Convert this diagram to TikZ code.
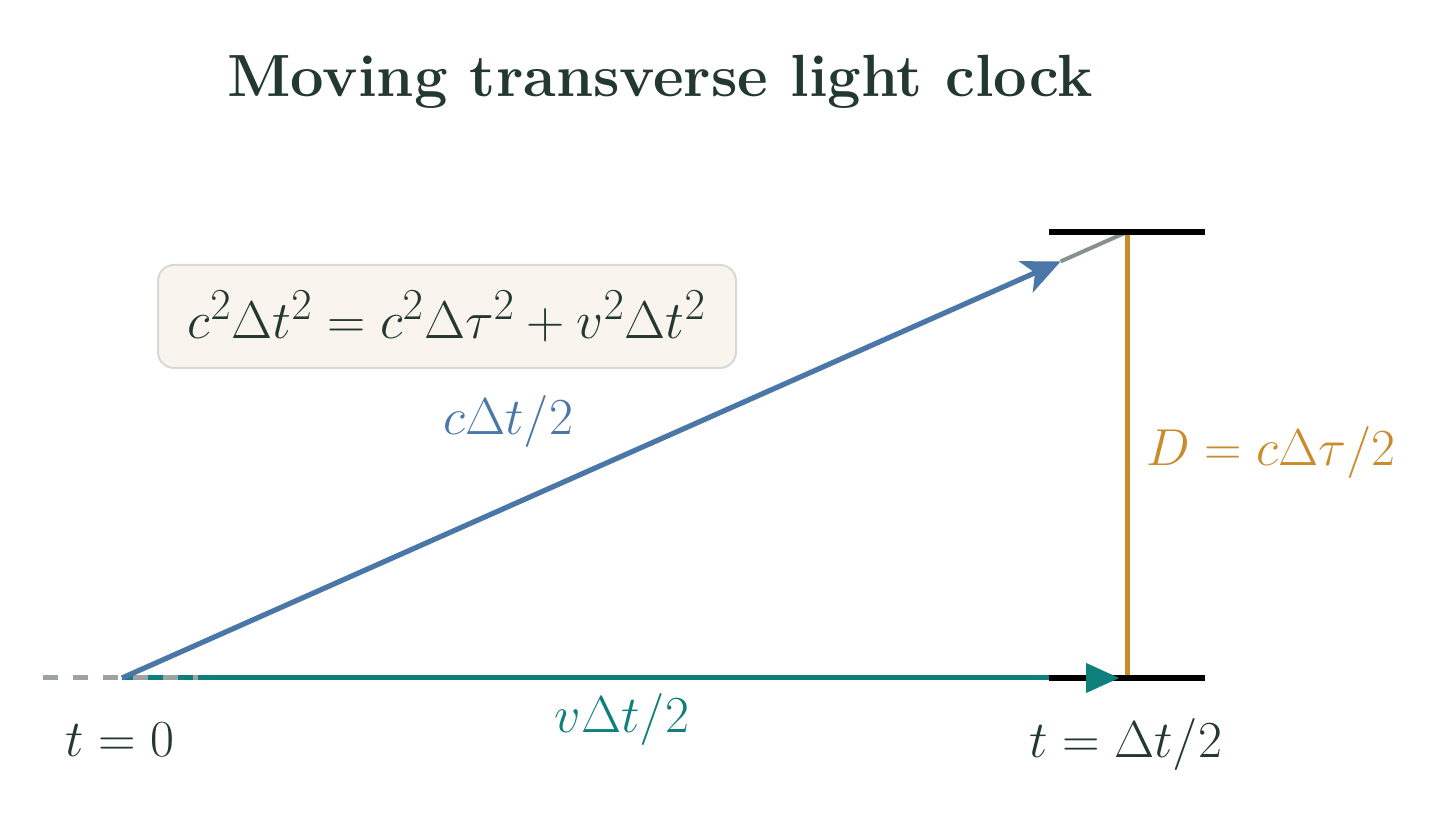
\documentclass[tikz,border=0pt]{standalone}
\usetikzlibrary{arrows.meta,calc}
\definecolor{txt}{HTML}{233830}
\definecolor{cblue}{HTML}{4A77A8}
\definecolor{cteal}{HTML}{0E7F7A}
\definecolor{corange}{HTML}{C88C2C}
\definecolor{cgray}{HTML}{9DA3A0}
\definecolor{cgrayline}{HTML}{86918C}
\definecolor{boxfill}{HTML}{F9F5EE}
\definecolor{boxdraw}{HTML}{D8D8D4}
\newcommand{\lblscale}[1]{\scalebox{1.045}{#1}}
\tikzset{
  mirror/.style={line width=2.8pt, black},
  lbl/.style={inner sep=0pt, font=\fontsize{24.88}{30}\selectfont},
}
\begin{document}
\begin{tikzpicture}[x=0.5pt,y=-0.5pt]
\useasboundingbox (0,0) rectangle (1453,828);
\coordinate (O) at (122,678);
\coordinate (B) at (1127,678);
\coordinate (T) at (1127,232);
\coordinate (TL) at (1049,232);
\coordinate (TR) at (1205,232);
\coordinate (BL) at (1049,678);
\coordinate (BR) at (1205,678);
\coordinate (Dl) at (43,678);
\coordinate (Dr) at (198,678);
\coordinate (tip) at ($(O)!0.934!(T)$);
\coordinate (vt) at (1119,678);
% title
\node[inner sep=0pt, text=txt, font=\fontsize{29.8}{34}\selectfont\bfseries] (title) at (660,82) {Moving transverse light clock};
% teal line
\draw[cteal, line width=2.5pt] (O) -- (vt);
% dashes
\draw[cgray, line width=2.5pt, dash pattern=on 7.5pt off 7.5pt] (Dl) -- (Dr);
% gray segment top
\draw[cgrayline, line width=2pt] (tip) -- (T);
% blue
\draw[cblue, line width=2.6pt, -{Stealth[length=19pt,width=17pt,inset=5pt]}] (O) -- (tip);
% orange
\draw[corange, line width=2.5pt] (T) -- (B);
% mirrors
\draw[mirror] (TL) -- (TR);
\draw[mirror] (BL) -- (BR);
% teal arrowhead
\draw[cteal, line width=0.1pt, -{Triangle[length=16.5pt,width=15pt]}] (1090,678) -- (vt);
% box
\node[draw=boxdraw, fill=boxfill, line width=1pt, rounded corners=8pt, minimum width=289pt, minimum height=51.5pt, inner sep=0pt, text=txt, font=\fontsize{24.88}{30}\selectfont] (eq) at (447,316.5) {\scalebox{1.066}{$c^2\Delta t^2 = c^2\Delta\tau^2 + v^2\Delta t^2$}};
% labels
\node[lbl, text=cblue] (lc) at (508,422) {\lblscale{$c\Delta t/2$}};
\node[lbl, text=cteal] (lv) at (622,720) {\lblscale{$v\Delta t/2$}};
\node[lbl, text=corange] (lD) at (1271,453) {\lblscale{$D = c\Delta\tau/2$}};
\node[lbl, text=txt] (l0) at (120,740) {\lblscale{$t = 0$}};
\node[lbl, text=txt] (l1) at (1126,745) {\lblscale{$t = \Delta t/2$}};
\end{tikzpicture}
\end{document}
